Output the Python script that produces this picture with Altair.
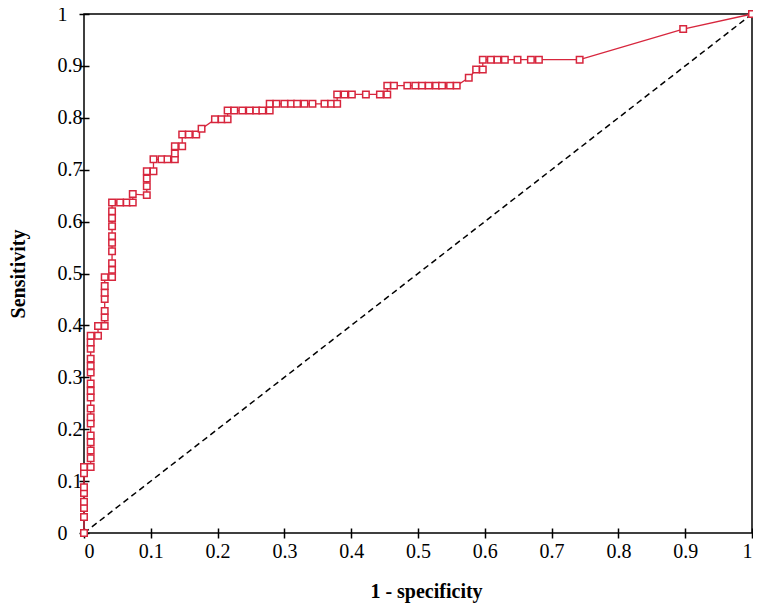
import altair as alt
import pandas as pd

# ROC curve points (1 - specificity, sensitivity)
fpr = [0, 0, 0, 0, 0, 0, 0, 0,
       0.010, 0.010, 0.010, 0.010, 0.010, 0.010, 0.010, 0.010, 0.010,
       0.010, 0.010, 0.010, 0.010, 0.010, 0.010, 0.010, 0.010,
       0.021, 0.021, 0.031, 0.031, 0.031, 0.031, 0.031, 0.031, 0.031,
       0.042, 0.042, 0.042, 0.042, 0.042, 0.042, 0.042, 0.042, 0.042, 0.042,
       0.054, 0.064, 0.073, 0.073, 0.094, 0.094, 0.094, 0.094,
       0.104, 0.104, 0.116, 0.125, 0.136, 0.136, 0.136, 0.147, 0.147,
       0.157, 0.168, 0.176, 0.196, 0.206, 0.215, 0.215,
       0.225, 0.237, 0.248, 0.258, 0.267, 0.278, 0.278,
       0.288, 0.300, 0.310, 0.319, 0.330, 0.342, 0.360, 0.370, 0.379, 0.379,
       0.390, 0.401, 0.422, 0.443, 0.454, 0.454,
       0.464, 0.484, 0.496, 0.506, 0.516, 0.527, 0.536, 0.548, 0.558,
       0.576, 0.587, 0.597, 0.597, 0.609, 0.619, 0.630, 0.649, 0.669, 0.681,
       0.742, 0.897, 1.0]
tpr = [0, 0.031, 0.048, 0.060, 0.077, 0.088, 0.115, 0.127,
       0.127, 0.144, 0.159, 0.175, 0.188, 0.211, 0.223, 0.240, 0.261,
       0.274, 0.288, 0.309, 0.322, 0.336, 0.355, 0.367, 0.380,
       0.380, 0.399, 0.399, 0.415, 0.428, 0.451, 0.463, 0.476, 0.493,
       0.493, 0.507, 0.520, 0.543, 0.559, 0.572, 0.591, 0.607, 0.620, 0.637,
       0.637, 0.637, 0.637, 0.653, 0.651, 0.668, 0.683, 0.697,
       0.697, 0.720, 0.720, 0.720, 0.720, 0.731, 0.745, 0.745, 0.768,
       0.768, 0.768, 0.779, 0.797, 0.797, 0.797, 0.814,
       0.814, 0.814, 0.814, 0.814, 0.814, 0.814, 0.827,
       0.827, 0.827, 0.827, 0.827, 0.827, 0.827, 0.827, 0.827, 0.827, 0.845,
       0.845, 0.845, 0.845, 0.845, 0.845, 0.862,
       0.862, 0.862, 0.862, 0.862, 0.862, 0.862, 0.862, 0.862, 0.862,
       0.877, 0.893, 0.893, 0.912, 0.912, 0.912, 0.912, 0.912, 0.912, 0.912,
       0.912, 0.971, 1.0]

diag_x = [0, 1]
diag_y = [0, 1]
ticks = [0, 0.1, 0.2, 0.3, 0.4, 0.5, 0.6, 0.7, 0.8, 0.9, 1]

roc = pd.DataFrame({"fpr": fpr, "tpr": tpr, "order": list(range(len(fpr)))})
diag = pd.DataFrame({"fpr": diag_x, "tpr": diag_y})

FONT = "Liberation Serif"
RED = "#d7263d"

xscale = alt.Scale(domain=[0, 1], nice=False, zero=False)
yscale = alt.Scale(domain=[0, 1], nice=False, zero=False)

xaxis = alt.Axis(values=ticks, format="~g", domain=False, grid=False, offset=-5,
                 tickSize=10, tickColor="black", tickWidth=1.5,
                 labelFont=FONT, labelFontSize=20, labelColor="black", labelPadding=3,
                 title="1 - specificity", titleFont=FONT, titleFontSize=20,
                 titleFontWeight="bold", titleColor="black", titlePadding=20,
                 titleX=342)
yaxis = alt.Axis(values=ticks, format="~g", domain=False, grid=False, offset=-5,
                 tickSize=10, tickColor="black", tickWidth=1.5,
                 labelFont=FONT, labelFontSize=20, labelColor="black",
                 labelAlign="left", labelPadding=22,
                 title="Sensitivity", titleFont=FONT, titleFontSize=20,
                 titleFontWeight="bold", titleColor="black", titlePadding=29)

diag_layer = alt.Chart(diag).mark_line(color="black", strokeDash=[6, 4], strokeWidth=1.5).encode(
    x=alt.X("fpr:Q", scale=xscale, axis=xaxis),
    y=alt.Y("tpr:Q", scale=yscale, axis=yaxis),
)

line_layer = alt.Chart(roc).mark_line(color=RED, strokeWidth=1.3).encode(
    x=alt.X("fpr:Q", scale=xscale),
    y=alt.Y("tpr:Q", scale=yscale),
    order="order:Q",
)

pt_layer = alt.Chart(roc).mark_point(shape="square", filled=True, fill="white",
                                     stroke=RED, strokeWidth=1.5, size=42, opacity=1).encode(
    x=alt.X("fpr:Q", scale=xscale),
    y=alt.Y("tpr:Q", scale=yscale),
)

chart = alt.layer(diag_layer, line_layer, pt_layer).properties(
    width=668, height=519,
    padding={"left": 76, "top": 6, "right": 1, "bottom": 70},
    autosize=alt.AutoSizeParams(type="none"),
).configure_view(stroke="black", strokeWidth=1.5)

chart.save("out.html", embed_options={"renderer": "svg", "actions": False})
